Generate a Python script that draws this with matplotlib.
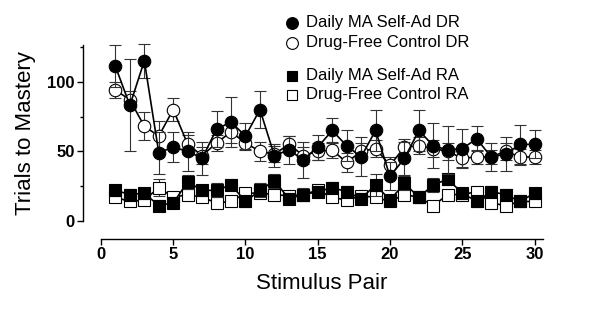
import matplotlib
matplotlib.use("Agg")
import matplotlib.pyplot as plt
from matplotlib.lines import Line2D
import numpy as np

plt.rcParams["font.family"] = ["Liberation Sans", "DejaVu Sans"]

pairs = list(range(1, 31))

# Daily MA Self-Ad, DR
ma_dr = [111, 83, 115, 49, 53, 50, 45, 66, 71, 61, 80, 47, 51, 44, 53,
         65, 54, 46, 65, 32, 45, 65, 54, 51, 52, 59, 46, 48, 55, 55]
ma_dr_err = [15, 33, 12, 15, 11, 14, 12, 13, 18, 9, 13, 8, 10, 13, 9,
             9, 11, 14, 15, 10, 12, 15, 16, 17, 14, 9, 10, 12, 14, 10]

# Drug-Free Control, DR
ctl_dr = [94, 87, 68, 61, 80, 55, 47, 56, 64, 56, 50, 48, 55, 47, 50,
          51, 42, 50, 52, 40, 53, 54, 52, 50, 45, 46, 46, 50, 46, 46]
ctl_dr_err = [6, 6, 10, 11, 8, 7, 6, 6, 8, 5, 7, 6, 6, 6, 6,
              6, 7, 6, 6, 6, 6, 6, 6, 6, 6, 5, 5, 6, 6, 5]

# Daily MA Self-Ad, RA
ma_ra = [22, 19, 20, 11, 13, 28, 22, 22, 26, 14, 22, 29, 16, 19, 21,
         24, 21, 16, 26, 15, 27, 17, 26, 30, 20, 14, 21, 19, 14, 20]
ma_ra_err = [4, 4, 4, 4, 4, 5, 4, 5, 4, 4, 5, 5, 4, 5, 4,
             4, 4, 4, 8, 4, 5, 4, 5, 4, 4, 4, 4, 4, 4, 4]

# Drug-Free Control, RA
ctl_ra = [17, 14, 15, 24, 17, 19, 17, 13, 14, 20, 20, 19, 18, 19, 22,
          17, 15, 18, 17, 14, 19, 17, 11, 19, 19, 21, 13, 11, 14, 14]
ctl_ra_err = [3, 3, 3, 6, 3, 3, 3, 3, 3, 3, 3, 3, 3, 3, 3,
              3, 3, 3, 3, 3, 3, 3, 3, 3, 3, 3, 3, 3, 3, 3]

legend_labels = ["Daily MA Self-Ad DR", "Drug-Free Control DR",
                 "Daily MA Self-Ad RA", "Drug-Free Control RA"]


def draw(ax, y, err, marker, filled, z):
    ax.errorbar(pairs, y, yerr=err, fmt="-", color="black", lw=1.2,
                elinewidth=0.8, ecolor="#333333", capsize=4, capthick=0.8,
                marker=marker, ms=9 if marker == "o" else 8.5,
                mec="black", mew=0.8,
                mfc="black" if filled else "white", zorder=z, clip_on=False)


fig = plt.figure(figsize=(6.0, 3.12), dpi=100)
ax = fig.add_axes([0.1683, 0.2917, 0.737, 0.5625])

draw(ax, ctl_ra, ctl_ra_err, "s", False, 3)
draw(ax, ma_ra, ma_ra_err, "s", True, 4)
draw(ax, ctl_dr, ctl_dr_err, "o", False, 5)
draw(ax, ma_dr, ma_dr_err, "o", True, 6)

ax.set_xlim(0, 30.6)
ax.set_ylim(0, 126)
ax.set_xticks([0, 5, 10, 15, 20, 25, 30])
ax.set_yticks([0, 50, 100])
ax.set_yticks([25, 75, 125], minor=True)

for s in ["top", "right"]:
    ax.spines[s].set_visible(False)
ax.spines["left"].set_position(("outward", 13))
ax.spines["bottom"].set_position(("outward", 13))
ax.spines["left"].set_bounds(0, 126)
ax.spines["bottom"].set_bounds(0, 30.6)
for s in ["left", "bottom"]:
    ax.spines[s].set_linewidth(1.0)

ax.tick_params(axis="both", which="major", length=4, width=1.0,
               labelsize=12, pad=2)
ax.tick_params(axis="y", which="minor", length=2.5, width=1.0)
for lab in ax.get_xticklabels() + ax.get_yticklabels():
    lab.set_fontweight("bold")

ax.set_xlabel("Stimulus Pair", fontsize=16, labelpad=8)
ax.set_ylabel("Trials to Mastery", fontsize=16, labelpad=8)

# legend, placed by hand
leg_y = [0.927, 0.863, 0.758, 0.697]
leg_marker = ["o", "o", "s", "s"]
leg_fill = ["black", "white", "black", "white"]
for yy, lab, mk, fc in zip(leg_y, legend_labels, leg_marker, leg_fill):
    fig.add_artist(Line2D([0.487], [yy], marker=mk, ms=8.5 if mk == "o" else 7.5,
                          mfc=fc, mec="black", mew=0.8, ls="none",
                          transform=fig.transFigure))
    fig.text(0.510, yy, lab, fontsize=12, va="center", ha="left")

fig.savefig("out.png", dpi=100)
